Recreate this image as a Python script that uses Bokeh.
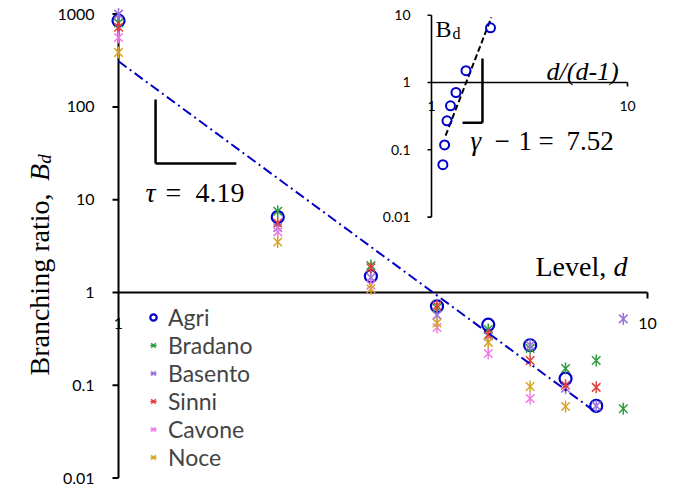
import numpy as np
from bokeh.plotting import figure
from bokeh.models import Range1d, LogScale, Label, Legend, LegendItem
from bokeh.core.properties import value
from bokeh.embed import file_html
from bokeh.resources import INLINE

# ---------------- data ----------------
levels_agri = [1, 2, 3, 4, 5, 6, 7, 8]
agri = [850, 6.5, 1.5, 0.71, 0.45, 0.27, 0.118, 0.06]
levels_bradano = [1, 2, 3, 4, 5, 6, 7, 8, 9]
bradano = [800, 7.5, 1.95, 0.68, 0.40, 0.25, 0.152, 0.185, 0.056]
levels_basento = [1, 2, 3, 4, 5, 6, 7, 8, 9]
basento = [1000, 5.0, 1.45, 0.57, 0.34, 0.27, 0.093, 0.06, 0.52]
levels_sinni = [1, 2, 3, 4, 5, 6, 7, 8]
sinni = [720, 5.6, 1.85, 0.72, 0.35, 0.185, 0.10, 0.095]
levels_cavone = [1, 2, 3, 4, 5, 6]
cavone = [560, 4.5, 1.2, 0.42, 0.22, 0.072]
levels_noce = [1, 2, 3, 4, 5, 6, 7]
noce = [385, 3.5, 1.1, 0.47, 0.29, 0.097, 0.059]

tau = 4.19
fit_coef = 310.0
fit_d = [1.0, 7.9]
gamma_minus_1 = 7.52
inset_coef = 0.0468
inset_fit_x = [1.18, 2.02]

y_ticks = [0.01, 0.1, 1, 10, 100, 1000]
y_tick_labels = ["0.01", "0.1", "1", "10", "100", "1000"]
x_ticks = [1, 10]
x_tick_labels = ["1", "10"]
inset_y_ticks = [0.01, 0.1, 1, 10]
inset_y_tick_labels = ["0.01", "0.1", "1", "10"]
inset_x_ticks = [1, 10]
inset_x_tick_labels = ["1", "10"]

# ---------------- styles ----------------
C_AGRI = "#0000CC"
C_BRADANO = "#2E9B3E"
C_BASENTO = "#9A72D8"
C_SINNI = "#E0403C"
C_CAVONE = "#F07CE6"
C_NOCE = "#D4A52A"
SANS = value("Lato")
SERIF = "Liberation Serif"

W, H = 680, 489
p = figure(width=W, height=H, output_backend="svg", toolbar_location=None,
           x_axis_type="log", y_axis_type="log",
           x_axis_location=None, y_axis_location=None,
           x_range=Range1d(10 ** -0.2231, 10 ** 1.0624),
           y_range=Range1d(10 ** -2.1228, 10 ** 3.1466),
           min_border=0, title=None)
p.grid.visible = False
p.outline_line_color = None
p.background_fill_color = "white"
p.border_fill_color = "white"

# inset ranges
p.extra_x_ranges = {"ix": Range1d(10 ** -2.199, 10 ** 1.2704)}
p.extra_y_ranges = {"iy": Range1d(10 ** -6.0475, 10 ** 1.2184)}
p.extra_x_scales = {"ix": LogScale()}
p.extra_y_scales = {"iy": LogScale()}

# ---------------- main axes ----------------
p.text(x=x_ticks, y=[1, 1], text=x_tick_labels, text_font=SANS, text_font_size="16px",
       text_align="center", text_baseline="middle", y_offset=31, text_color="black")
p.segment(x0=[1], y0=[y_ticks[0]], x1=[1], y1=[y_ticks[-1]], line_color="black", line_width=2)
p.segment(x0=[x_ticks[0]], y0=[1], x1=[x_ticks[-1]], y1=[1], line_color="black", line_width=2)
tick_fx = 10 ** (-6 / 529)
tick_fy = 10 ** (-6 / 92.8)
p.segment(x0=[tick_fx] * len(y_ticks), y0=y_ticks, x1=[1] * len(y_ticks), y1=y_ticks,
          line_color="black", line_width=2)
p.segment(x0=[10], y0=[1], x1=[10], y1=[tick_fy], line_color="black", line_width=2)
p.text(x=[1] * len(y_ticks), y=y_ticks, text=y_tick_labels, text_font=SANS, text_font_size="16px",
       text_align="right", text_baseline="middle", x_offset=-24, text_color="black")

# ---------------- inset axes ----------------
itick_fx = 10 ** (-4 / 196)
itick_fy = 10 ** (-4 / 67.3)
kw = dict(x_range_name="ix", y_range_name="iy")
p.text(x=inset_x_ticks, y=[1, 1], text=inset_x_tick_labels, text_font=SANS, text_font_size="14px",
       text_align="center", text_baseline="middle", y_offset=24, text_color="black", **kw)
p.segment(x0=[1], y0=[inset_y_ticks[0]], x1=[1], y1=[inset_y_ticks[-1]], line_color="black",
          line_width=1.6, **kw)
p.segment(x0=[1], y0=[1], x1=[10], y1=[1], line_color="black", line_width=1.6, **kw)
p.segment(x0=[itick_fx] * len(inset_y_ticks), y0=inset_y_ticks, x1=[1] * len(inset_y_ticks),
          y1=inset_y_ticks, line_color="black", line_width=1.6, **kw)
p.segment(x0=[10], y0=[1], x1=[10], y1=[itick_fy], line_color="black", line_width=1.6, **kw)
p.text(x=[1] * len(inset_y_ticks), y=inset_y_ticks, text=inset_y_tick_labels, text_font=SANS,
       text_font_size="14px", text_align="right", text_baseline="middle", x_offset=-21,
       text_color="black", **kw)

# ---------------- data markers ----------------
r_agri = p.scatter(levels_agri, agri, marker="circle", size=12, fill_color=None,
                   line_color=C_AGRI, line_width=2.2)


def stars(xs, ys, color):
    r1 = p.scatter(xs, ys, marker="x", size=12, line_color=color, line_width=1.5)
    r2 = p.scatter(xs, ys, marker="dash", angle=np.pi / 2, size=12, line_color=color, line_width=1.5)
    return [r1, r2]


r_bradano = stars(levels_bradano, bradano, C_BRADANO)
r_basento = stars(levels_basento, basento, C_BASENTO)
r_sinni = stars(levels_sinni, sinni, C_SINNI)
r_cavone = stars(levels_cavone, cavone, C_CAVONE)
r_noce = stars(levels_noce, noce, C_NOCE)

# fit line B = c d^-tau
fd = np.array(fit_d)
p.line(fd, fit_coef * fd ** (-tau), line_color="#0000C8", line_width=2, line_dash="10 4 2 4")

# slope triangle (main)
p.segment(x0=[1.175, 1.175], y0=[120, 24.5], x1=[1.175, 1.67], y1=[24.5, 24.5],
          line_color="black", line_width=2.5)

# ---------------- inset content ----------------
inset_x = [d / (d - 1) for d in levels_agri[1:]]
inset_y = agri[1:]
ifx = np.array(inset_fit_x)
p.line(ifx, inset_coef * ifx ** gamma_minus_1, line_color="black", line_width=2,
       line_dash="6 3", **kw)
p.scatter(inset_x, inset_y, marker="circle", size=9, fill_color=None, line_color=C_AGRI,
          line_width=2, **kw)
p.segment(x0=[1.82, 1.44], y0=[2.28, 0.253], x1=[1.82, 1.82], y1=[0.253, 0.253],
          line_color="black", line_width=2.5, **kw)


# ---------------- texts ----------------
def lab(x, y, text, size, font=SERIF, style="normal", angle=0, baseline="middle", align="left"):
    p.add_layout(Label(x=x, y=y, x_units="screen", y_units="screen", text=text,
                       text_font=font, text_font_size=size, text_font_style=style,
                       angle=angle, text_baseline=baseline, text_align=align,
                       text_color="black"))


lab(145, 297, "τ", "28px", style="italic")
lab(165, 297, "=", "28px")
lab(195, 297, "4.19", "28px")
lab(470, 349, "γ", "27px", style="italic")
lab(494, 349, "−", "27px")
lab(518, 349, "1", "27px")
lab(538, 349, "=", "27px")
lab(566, 349, "7.52", "27px")
lab(535, 223, "Level, ", "28px")
lab(613, 223, "d", "28px", style="italic")
lab(435, 461, "B", "24px", baseline="alphabetic")
lab(452, 456, "d", "16px", baseline="alphabetic")
lab(546, 418, "d/(d-1)", "26px", style="italic", baseline="alphabetic")
lab(39, 114, "Branching ratio, ", "28px", angle=np.pi / 2, baseline="alphabetic")
lab(39, 308.6, "B", "28px", style="italic", angle=np.pi / 2, baseline="alphabetic")
lab(44, 325.7, "d", "19px", style="italic", angle=np.pi / 2, baseline="alphabetic")

# ---------------- legend ----------------
legend = Legend(items=[
    LegendItem(label="Agri", renderers=[r_agri]),
    LegendItem(label="Bradano", renderers=r_bradano),
    LegendItem(label="Basento", renderers=r_basento),
    LegendItem(label="Sinni", renderers=r_sinni),
    LegendItem(label="Cavone", renderers=r_cavone),
    LegendItem(label="Noce", renderers=r_noce),
], location=(145, 18), label_text_font="Lato", label_text_font_size="23px",
    glyph_width=16, glyph_height=16, label_standoff=7, spacing=0, padding=0, margin=0,
    border_line_color=None, background_fill_alpha=0)
p.add_layout(legend, "center")

open("out.html", "w").write(file_html(p, INLINE))
